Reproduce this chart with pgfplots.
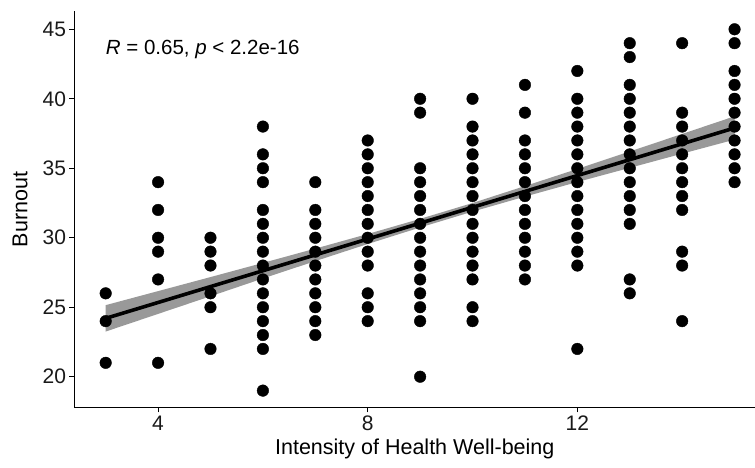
\documentclass[border=0pt]{standalone}
\usepackage{pgfplots}
\pgfplotsset{compat=1.18}
\usepackage{fontspec}
\setmainfont{Liberation Sans}
\begin{document}
\begin{tikzpicture}[x=1pt,y=1pt]
\path[use as bounding box] (-74.5,-60.7) rectangle (680.5,407.3);
\begin{axis}[
  at={(0,0)}, anchor=south west,
  scale only axis, width=680.5pt, height=395.8pt,
  xmin=2.405, xmax=15.39, ymin=17.8, ymax=46.28,
  axis x line*=bottom, axis y line*=left,
  axis line style={line width=1.1pt, black},
  xtick={4,8,12}, ytick={20,25,30,35,40,45},
  tick align=outside, major tick length=5pt,
  tick style={line width=1.1pt, black},
  minor tick num=0,
  /pgf/number format/assume math mode=true,
  ticklabel style={font=\fontsize{21}{24}\selectfont, text=black!90},
  xlabel={Intensity of Health Well-being},
  ylabel={Burnout},
  label style={font=\fontsize{21.5}{24}\selectfont, text=black},
  xlabel style={at={(axis description cs:0.5,0)}, anchor=center, yshift=-42pt},
  ylabel style={at={(axis description cs:0,0.5)}, anchor=center, rotate=0, yshift=54.5pt},
  clip=false,
]
\addplot[only marks, mark=*, mark size=5.8pt, black] table[x=x,y=y] {
x y
3 26
3 24
3 21
4 34
4 32
4 30
4 29
4 27
4 21
5 30
5 29
5 28
5 26
5 25
5 22
6 38
6 36
6 35
6 34
6 32
6 31
6 30
6 29
6 28
6 27
6 26
6 25
6 24
6 23
6 22
6 19
7 34
7 32
7 31
7 30
7 29
7 28
7 27
7 26
7 25
7 24
7 23
8 37
8 36
8 35
8 34
8 33
8 32
8 31
8 30
8 29
8 28
8 26
8 25
8 24
9 40
9 39
9 35
9 34
9 33
9 32
9 31
9 30
9 29
9 28
9 27
9 26
9 25
9 24
9 20
10 40
10 38
10 37
10 36
10 35
10 34
10 33
10 32
10 31
10 30
10 29
10 28
10 27
10 25
10 24
11 41
11 39
11 37
11 36
11 35
11 34
11 33
11 32
11 31
11 30
11 29
11 28
11 27
12 42
12 40
12 39
12 38
12 37
12 36
12 35
12 34
12 33
12 32
12 31
12 30
12 29
12 28
12 22
13 44
13 43
13 41
13 40
13 39
13 38
13 37
13 36
13 35
13 34
13 33
13 32
13 31
13 27
13 26
14 44
14 39
14 38
14 37
14 36
14 35
14 34
14 33
14 32
14 29
14 28
14 24
15 45
15 44
15 42
15 41
15 40
15 39
15 38
15 37
15 36
15 35
15 34
};
\addplot[draw=none, fill=black, fill opacity=0.4] coordinates {
(3,25.15) (4,26.16) (5,27.17) (6,28.19) (7,29.22) (8,30.27) (9,31.36) (10,32.50) (11,33.72) (12,34.95) (13,36.21) (14,37.47) (15,38.74)
(15,37.06) (14,36.05) (13,35.03) (12,34.01) (11,32.96) (10,31.88) (9,30.74) (8,29.55) (7,28.32) (6,27.07) (5,25.79) (4,24.52) (3,23.25)
} -- cycle;
\addplot[black, line width=3.6pt] coordinates {
(3,24.2) (15,37.9)
};
\node[anchor=base west, inner sep=0pt, font=\fontsize{20.5}{24}\selectfont] at (axis cs:3,43.15) {\textit{R} = 0.65, \textit{p} < 2.2e-16};
\end{axis}
\end{tikzpicture}
\end{document}
